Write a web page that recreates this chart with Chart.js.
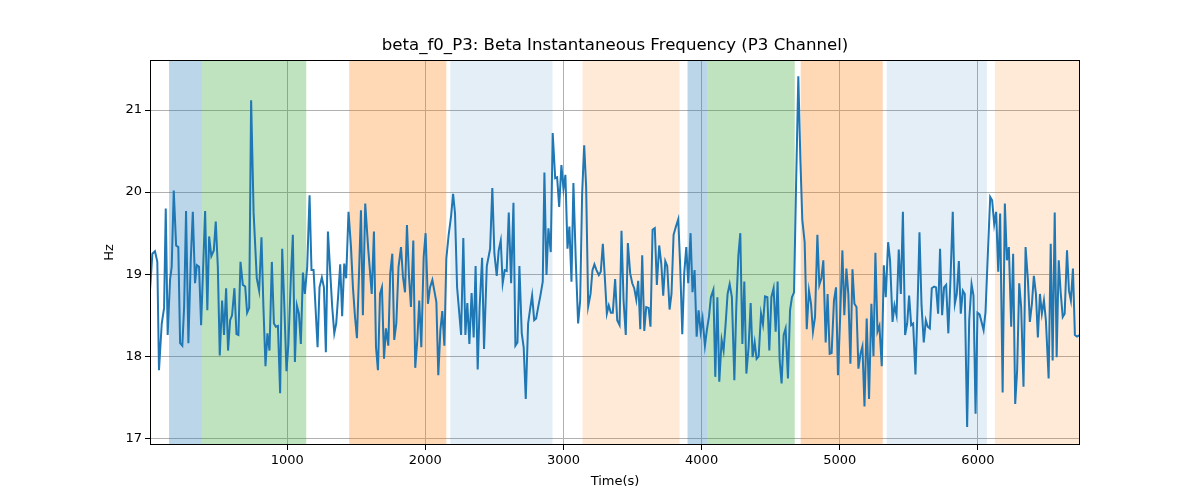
<!DOCTYPE html>
<html>
<head>
<meta charset="utf-8">
<script src="https://cdn.jsdelivr.net/npm/chart.js@4/dist/chart.umd.min.js"></script>
<style>
html,body{margin:0;padding:0;background:#fff;}
#wrap{width:1200px;height:500px;}
</style>
</head>
<body>
<div id="wrap"><canvas id="c" width="1200" height="500"></canvas></div>
<script>
const chartTitle = "beta_f0_P3: Beta Instantaneous Frequency (P3 Channel)";
const xLabel = "Time(s)";
const yLabel = "Hz";
const xTicks = [1000, 2000, 3000, 4000, 5000, 6000];
const yTicks = [17, 18, 19, 20, 21];

const times = [7,24,43,60,72,92,109,121,135,152,164,179,196,212,225,241,254,268,285,302,317,333,346,362,377,406,422,435,451,469,483,498,512,529,543,558,572,587,601,618,633,647,662,679,696,710,725,739,757,
780,797,814,828,843,857,872,889,904,918,933,949,964,978,995,1009,1027,1041,1056,1070,1085,1099,1114,1128,1145,1162,1176,1191,1205,1220,1234,1251,1266,1280,1295,1312,1326,1341,1355,1370,1384,1398,1413,1427,1444,1462,1476,1491,1505,1520,1534,1548,1565,1587,1612,1628,
1643,1657,1672,1686,1701,1715,1732,1746,1761,1775,1790,1806,1824,1838,1853,1867,1882,1896,1913,1927,1942,1956,1971,1988,2002,2019,2034,2051,2065,2080,2094,2109,2123,2138,2152,2169,2186,2201,2215,2230,2244,2259,2275,2290,2304,2319,2335,2350,2364,2379,2393,2411,2425,2445,2469,
2485,2500,2517,2531,2546,2560,2575,2589,2604,2621,2638,2652,2667,2681,2698,2712,2727,2744,2759,2773,2788,2802,2817,2833,2850,2862,2877,2891,2908,2922,2940,2954,2969,2985,3000,3014,3029,3043,3058,3072,3089,3106,3121,3135,3150,3164,3179,3196,3210,3224,3239,3256,3270,3285,
3299,3314,3328,3343,3357,3374,3389,3406,3420,3435,3451,3466,3483,3498,3512,3527,3541,3556,3570,3585,3599,3616,3630,3645,3661,3676,3693,3708,3722,3737,3751,3768,3782,3797,3814,3831,3845,3860,3874,3889,3903,3920,3934,3949,3964,3978,3993,4007,4024,4038,4053,4067,4085,4099,4114,4128,
4145,4159,4174,4188,4203,4219,4237,4251,4266,4280,4295,4309,4324,4340,4355,4369,4384,4398,4413,4430,4444,4459,4476,4490,4505,4521,4536,4550,4565,4579,4594,4608,4625,4640,4654,4669,4683,4700,4715,4729,4746,4761,4777,4792,4806,4821,4838,4852,4867,4881,4898,4912,4927,4941,4958,
4973,4987,5002,5019,5033,5048,5062,5077,5092,5106,5121,5135,5150,5164,5179,5195,5212,5229,5244,5258,5273,5287,5304,5319,5333,5350,5364,5382,5396,5411,5427,5442,5457,5473,5488,5502,5517,5531,5548,5563,5577,5592,5608,5623,5637,5652,5666,5683,5697,5712,5726,5741,5755,5770,5786,
5802,5818,5833,5847,5862,5876,5891,5905,5922,5937,5954,5968,5983,5997,6012,6026,6041,6055,6070,6089,6103,6118,6132,6147,6161,6179,6195,6210,6224,6241,6255,6270,6284,6299,6313,6330,6345,6362,6376,6391,6405,6420,6434,6449,6463,6478,6492,6512,6527,6541,6556,6570,6585,6599,6614,6628,6645,6659,6673,6688,6702,6717,6739];

const freqs = [18.80,19.25,19.28,19.15,17.83,18.40,18.59,19.80,18.26,18.93,19.09,20.02,19.35,19.33,18.16,18.13,18.60,19.77,18.16,19.17,19.76,18.89,19.11,19.09,18.38,19.77,18.56,19.46,19.22,19.29,19.64,19.09,18.01,18.68,18.26,18.83,18.07,18.44,18.50,18.83,18.27,18.26,19.15,18.87,18.85,18.53,18.59,21.12,19.75,
18.95,18.80,19.45,18.60,17.88,18.28,18.07,19.15,18.40,18.36,18.37,17.55,19.31,18.68,17.82,18.15,18.97,19.48,17.93,18.62,18.52,18.15,19.02,18.76,19.09,19.96,19.05,19.05,18.60,18.11,18.84,18.96,18.84,18.05,19.52,19.01,18.60,18.28,18.40,18.76,19.12,18.49,19.13,18.95,19.76,19.33,18.84,18.48,18.22,19.01,19.78,18.50,19.86,19.30,18.76,19.52,
18.11,17.83,18.76,18.84,17.97,18.34,18.13,19.01,19.25,18.20,18.40,19.09,19.33,18.97,18.78,19.60,18.97,18.60,19.41,17.86,18.20,18.68,18.11,19.21,19.50,18.64,18.84,18.93,18.80,18.66,17.77,18.32,18.55,18.13,19.19,19.48,19.70,19.98,19.74,18.84,18.56,18.26,19.44,18.26,18.65,18.15,18.77,18.23,19.10,17.84,18.60,19.20,18.09,19.10,19.31,
20.05,19.25,18.98,19.29,19.41,18.89,19.05,19.04,19.75,18.89,19.87,18.13,18.17,19.10,18.28,18.11,17.48,18.40,18.58,18.74,18.44,18.46,18.60,18.74,18.91,20.24,18.99,19.56,19.27,20.72,20.17,20.18,19.82,20.33,20.04,20.21,19.31,19.58,18.91,20.11,19.17,18.40,18.68,19.98,20.57,20.07,18.61,18.76,19.05,19.12,19.05,18.99,19.03,19.37,
18.97,18.52,18.62,18.53,18.53,18.94,18.44,18.38,19.53,18.68,18.26,19.38,19.01,18.89,18.83,18.69,18.92,18.33,19.23,18.31,18.60,18.59,18.36,19.54,19.56,18.87,19.35,19.13,18.74,19.16,19.10,18.57,18.76,19.48,19.58,19.67,19.09,18.27,19.01,19.33,18.89,19.50,18.78,19.05,18.24,18.56,18.30,18.46,18.13,18.32,18.48,18.72,18.81,17.75,18.72,17.69,
18.20,18.07,18.40,18.76,18.88,18.72,17.71,18.60,19.23,19.50,18.15,18.91,17.79,18.11,18.65,17.99,18.17,17.97,18.00,18.52,18.39,18.73,18.72,18.07,18.72,18.83,18.30,18.91,17.95,17.67,18.26,18.34,17.73,18.56,18.72,18.78,20.02,21.41,20.39,19.66,19.39,18.33,18.80,18.64,18.30,18.48,19.48,18.87,18.95,19.17,18.17,18.76,18.03,18.04,18.68,
18.84,17.77,18.44,19.29,18.50,19.07,18.76,17.91,19.06,18.64,18.60,17.85,18.03,18.12,17.39,18.46,17.48,18.64,18.00,19.26,18.30,18.37,17.88,19.11,18.72,19.39,19.17,18.42,18.62,18.50,19.30,18.76,19.76,18.26,18.40,18.74,18.38,18.40,17.78,18.60,19.51,18.62,18.17,18.44,18.36,18.34,18.83,18.85,18.84,18.52,19.31,18.50,18.84,18.87,18.28,
18.97,19.76,18.64,18.76,19.16,18.52,18.80,18.76,17.14,18.44,18.88,18.74,17.30,18.53,18.51,18.42,18.32,18.54,19.17,19.94,19.90,19.61,19.76,19.03,19.74,17.56,19.86,19.17,19.33,18.36,19.25,17.42,17.83,18.89,18.60,17.63,19.33,18.93,18.42,18.64,18.98,18.76,18.23,18.76,18.52,18.68,18.44,17.73,19.37,17.95,19.75,17.99,19.17,18.78,18.48,18.52,19.29,18.80,18.68,19.07,18.26,18.24,18.26];

// shaded segments (time ranges) and their kinds
const bandStart = [145, 384, 1449, 2181, 3138, 3898, 4043, 4717, 5340, 6123];
const bandEnd   = [384, 1138, 2152, 2920, 3841, 4043, 4674, 5311, 6065, 6739];
const bandKind  = ["blue", "green", "orange", "lightblue", "lightorange", "blue", "green", "orange", "lightblue", "lightorange"];

const bandFill = {
  blue: "rgba(31,119,180,0.30)",
  green: "rgba(44,160,44,0.30)",
  orange: "rgba(255,127,14,0.30)",
  lightblue: "rgba(31,119,180,0.12)",
  lightorange: "rgba(255,127,14,0.16)"
};

const points = times.map((t, i) => ({x: t, y: freqs[i]}));

const bandsPlugin = {
  id: "bands",
  beforeDatasetsDraw(chart) {
    const {ctx, chartArea, scales} = chart;
    ctx.save();
    ctx.beginPath();
    ctx.rect(chartArea.left, chartArea.top, chartArea.right - chartArea.left, chartArea.bottom - chartArea.top);
    ctx.clip();
    for (let i = 0; i < bandStart.length; i++) {
      const x0 = scales.x.getPixelForValue(bandStart[i]);
      const x1 = scales.x.getPixelForValue(bandEnd[i]);
      ctx.fillStyle = bandFill[bandKind[i]];
      ctx.fillRect(x0, chartArea.top, x1 - x0, chartArea.bottom - chartArea.top);
    }
    ctx.restore();
  },
  afterDraw(chart) {
    const {ctx, chartArea} = chart;
    ctx.save();
    ctx.strokeStyle = "#000";
    ctx.lineWidth = 1;
    ctx.strokeRect(Math.round(chartArea.left) + 0.5, Math.round(chartArea.top) + 0.5,
      Math.round(chartArea.right - chartArea.left) - 1, Math.round(chartArea.bottom - chartArea.top) - 1);
    ctx.restore();
  }
};

const fontFam = "'DejaVu Sans', sans-serif";

new Chart(document.getElementById("c"), {
  type: "line",
  data: {
    datasets: [{
      data: points,
      borderColor: "#1f77b4",
      borderWidth: 2,
      pointRadius: 0,
      tension: 0,
      fill: false
    }]
  },
  options: {
    responsive: false,
    animation: false,
    devicePixelRatio: 1,
    layout: {padding: {left: 0, right: 120, top: 0, bottom: 0}},
    plugins: {
      legend: {display: false},
      tooltip: {enabled: false},
      title: {
        display: true,
        fullSize: false,
        text: chartTitle,
        color: "#000",
        font: {family: fontFam, size: 16.6, weight: "normal", lineHeight: 1.2},
        padding: {top: 36, bottom: 4}
      }
    },
    scales: {
      x: {
        type: "linear",
        min: times[0],
        max: times[times.length - 1],
        afterBuildTicks(scale) { scale.ticks = xTicks.map(v => ({value: v})); },
        afterFit(scale) { scale.height = 55; },
        grid: {color: "#b0b0b0", lineWidth: 1, tickLength: 5, tickColor: "#000", drawTicks: true},
        border: {display: false},
        ticks: {color: "#000", font: {family: fontFam, size: 13}, padding: 3, maxRotation: 0, autoSkip: false,
                callback: v => String(v)},
        title: {display: true, text: xLabel, color: "#000", font: {family: fontFam, size: 13, lineHeight: 1.2}, padding: {top: 0, bottom: 11}}
      },
      y: {
        type: "linear",
        min: 16.92,
        max: 21.61,
        afterBuildTicks(scale) { scale.ticks = yTicks.map(v => ({value: v})); },
        afterFit(scale) { scale.width = 150; },
        grid: {color: "#b0b0b0", lineWidth: 1, tickLength: 5, tickColor: "#000", drawTicks: true},
        border: {display: false},
        ticks: {color: "#000", font: {family: fontFam, size: 13}, padding: 3, autoSkip: false,
                callback: v => String(v)},
        title: {display: true, text: yLabel, color: "#000", font: {family: fontFam, size: 13, lineHeight: 1.2}, padding: {top: 102, bottom: 0}}
      }
    }
  },
  plugins: [bandsPlugin]
});
</script>
</body>
</html>
